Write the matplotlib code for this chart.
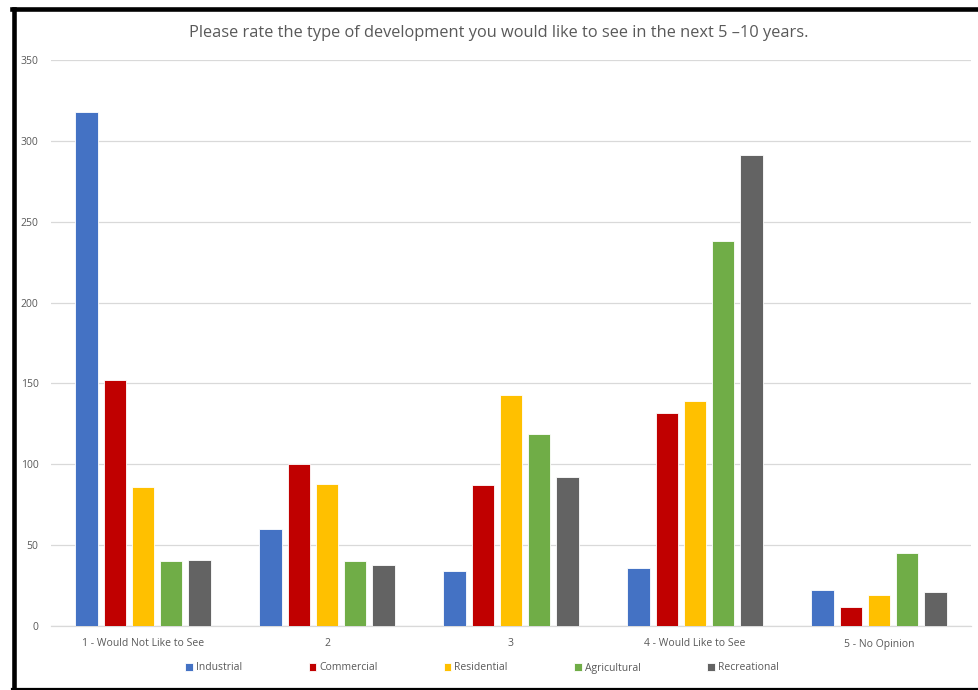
import matplotlib
matplotlib.use('Agg')
import matplotlib.pyplot as plt
from matplotlib.lines import Line2D
import numpy as np

categories = ['1 - Would Not Like to See', '2', '3', '4 - Would Like to See', '5 - No Opinion']
series_names = ['Industrial', 'Commercial', 'Residential', 'Agricultural', 'Recreational']
industrial = [318, 60, 34, 36, 22]
commercial = [152, 100, 87, 132, 12]
residential = [86, 88, 143, 139, 19]
agricultural = [40, 40, 119, 238, 45]
recreational = [41, 38, 92, 291, 21]
colors = ['#4472C4', '#C00000', '#FFC000', '#70AD47', '#636363']

plt.rcParams['font.family'] = ['Open Sans', 'DejaVu Sans']

W, H = 979, 690
fig = plt.figure(figsize=(W / 100, H / 100), dpi=100)
fig.patch.set_facecolor('white')

ax = fig.add_axes([51 / W, 1 - 626 / H, 920 / W, 566 / H])

x = np.arange(len(categories))
bar_w = 0.12
step = 0.1535
all_series = [industrial, commercial, residential, agricultural, recreational]
for i, (name, vals, c) in enumerate(zip(series_names, all_series, colors)):
    ax.bar(x + (i - 2) * step, vals, bar_w, color=c, label=name,
           edgecolor='white', linewidth=0.6, zorder=3)

ax.set_xlim(-0.5, 4.5)
ax.set_ylim(0, 350)
ax.set_yticks(range(0, 351, 50))
ax.set_xticks(x)
ax.set_xticklabels(categories)
ax.tick_params(axis='both', length=0, labelsize=7.5, labelcolor='#595959')
ax.tick_params(axis='x', pad=9)
ax.tick_params(axis='y', pad=9)
ax.grid(axis='y', color='#D9D9D9', linewidth=0.9, zorder=0)
for s in ['top', 'right', 'left']:
    ax.spines[s].set_visible(False)
ax.spines['bottom'].set_color('#D9D9D9')
ax.spines['bottom'].set_linewidth(0.9)

fig.text(499 / W, 1 - 33 / H,
         'Please rate the type of development you would like to see in the next 5 \u201310 years.',
         ha='center', va='center', fontsize=11.8, color='#595959')

fig.legend(loc='center', bbox_to_anchor=(482 / W, 1 - 668 / H), ncol=5, frameon=False,
           fontsize=7.5, labelcolor='#595959', handlelength=0.7, handleheight=0.7,
           handletextpad=0.3, columnspacing=6.4)

# black frame around the chart
fig.add_artist(Line2D([14 / W, 14 / W], [1 - 9 / H, 1 - 689 / H], color='black', linewidth=3.3))
fig.add_artist(Line2D([12 / W, 1.0], [1 - 9 / H, 1 - 9 / H], color='black', linewidth=3.3))
fig.add_artist(Line2D([12 / W, 1.0], [1 - 689 / H, 1 - 689 / H], color='black', linewidth=1.6))

fig.savefig('out.png', dpi=100)
